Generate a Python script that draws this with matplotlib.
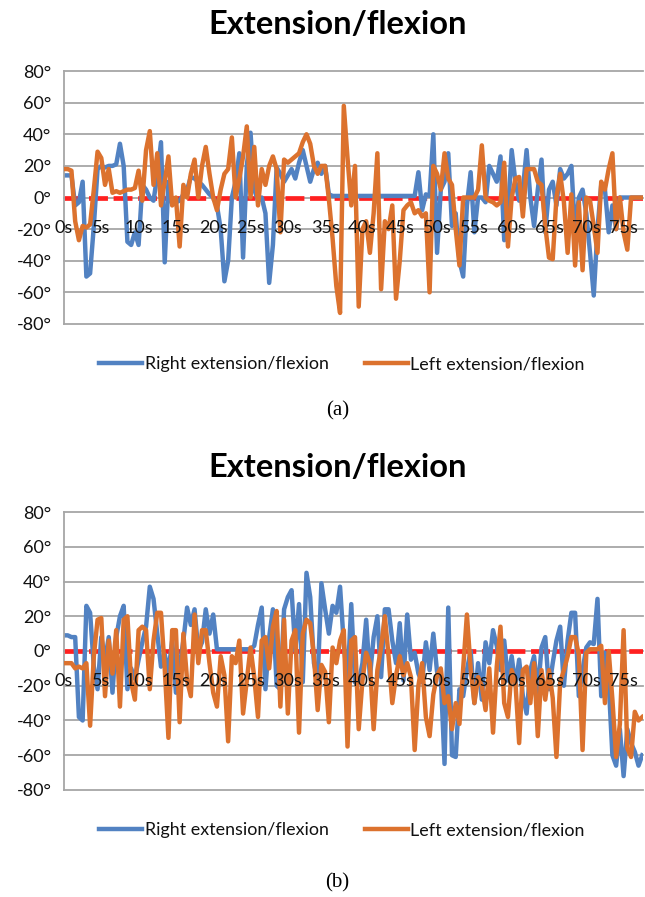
import numpy as np
import matplotlib
matplotlib.use('Agg')
import matplotlib.pyplot as plt

plt.rcParams['font.family'] = ['Lato', 'DejaVu Sans']

# samples every 0.5 s
step = 0.5

right_a = [14, 14, 14, -5, -3, 10, -50, -48, -18, 18,
           20, 19, 20, 20, 21, 34, 20, -28, -30, -22,
           -30, 8, 5, 0, -2, 14, 35, -41, 10, -4,
           -3, -2, 2, 5, 13, 12, 10, 8, 5, 2,
           0, -5, -20, -53, -40, 0, 10, 28, -38, 20,
           41, 5, -2, 0, -10, -54, -30, 19, 15, 10,
           14, 18, 12, 22, 30, 20, 10, 18, 22, 15,
           20, 2, 1, 1, 1, 1, 1, 1, 1, 1,
           1, 1, 1, 1, 1, 1, 1, 1, 1, 1,
           1, 1, 1, 1, 1, 16, -8, 2, 1, 40,
           -35, 5, 10, 28, -18, -10, -40, -50, -5, 16,
           -22, 0, 0, -3, 20, 15, 10, 26, -27, -10,
           30, 10, -2, 5, 30, 0, -18, 5, 24, -22,
           5, 10, -5, 18, 12, 15, 20, -22, 0, 5,
           -10, -35, -62, -20, 8, 5, -22, -5, -20, 0,
           0, 0, 0, 0, 0, 0]

left_a = [18, 18, 17, -15, -27, -18, -19, -17, 5, 29,
          25, 8, 18, 3, 4, 3, 4, 5, 5, 6,
          17, -2, 30, 42, 8, 28, -5, 10, 26, -5,
          0, -31, 8, 0, 15, 24, 0, 20, 32, 15,
          0, -8, 5, 15, 18, 38, 0, 12, 26, 45,
          0, 32, -5, 18, 8, 20, 26, 18, -22, 24,
          22, 24, 26, 28, 35, 40, 34, 20, 15, 20,
          20, -1, -26, -56, -73, 58, 25, -5, 20, -69,
          -20, -15, -35, -10, 28, -58, -15, -20, -5, -64,
          -40, -8, -5, -3, -10, -8, -12, -10, -60, 20,
          15, 5, 28, 12, 8, -20, -43, 0, 0, 0,
          0, 5, 33, 0, -2, -3, -5, -3, 22, -31,
          0, 12, 13, -12, 18, 18, 18, 10, 8, -18,
          -38, -39, 0, 15, -3, -35, 2, -43, -3, -46,
          0, -2, -18, -35, 10, 5, 18, 28, -20, 0,
          -22, -33, 0, 0, 0, 0]

right_b = [9, 9, 8, 8, -38, -40, 26, 22, -9, -22,
           8, -5, 8, -24, 8, 20, 26, -22, -10, -16,
           -5, 5, 14, 37, 30, 10, -9, -2, -12, 6,
           -24, -9, 6, 25, 15, 24, 0, 5, 24, 10,
           21, 1, 1, 1, 1, 1, 1, 1, 1, 1,
           1, 3, 15, 25, -22, 8, 24, -20, -22, 24,
           31, 35, 0, 27, -18, 45, 31, -7, -17, 39,
           24, 10, 26, 22, 37, 4, -18, 27, -18, -18,
           -7, 18, -15, 8, 20, -15, 24, 24, 6, -7,
           16, -17, 21, -5, -1, -13, -18, 5, -11, 10,
           -12, -15, -65, 25, -60, -61, -22, -26, -11, 0,
           -30, -7, -28, 5, -7, 12, 3, -11, 6, -17,
           -3, -20, -5, -26, -36, -11, -3, -24, 2, 8,
           -22, -7, 6, 14, -20, 6, 22, 22, -26, -11,
           2, 5, 4, 30, -26, -1, -18, -60, -66, -45,
           -72, -45, -53, -58, -66, -60]

left_b = [-7, -7, -7, -10, -9, -10, -7, -43, -3, 18,
          19, -26, 6, -13, 12, -32, 18, 20, -18, -28,
          12, 14, 12, -22, 6, 22, 22, -10, -50, 12,
          12, -41, 10, -17, -26, 21, -7, 12, 12, -7,
          -24, -32, -3, -14, -52, -3, -7, 6, -36, -17,
          2, -15, -38, 6, 8, -10, 14, 23, -32, 18,
          -36, 6, 12, -47, 10, 18, 16, -3, -34, -8,
          -12, -41, 2, -7, 6, 12, -55, 6, 8, -45,
          -17, -1, -7, -45, -11, 2, 20, -3, -30, -14,
          -3, -14, -7, -15, -57, -20, -7, -38, -49, -25,
          -14, -10, -30, -26, -45, -30, -42, -10, 21, -10,
          -30, -15, -20, -34, -10, -47, -9, 14, -30, -38,
          -11, -18, -53, -11, -9, -30, -7, -49, -11, -28,
          -11, -27, -61, -18, -11, -3, 8, 8, -2, -57,
          -1, 1, 1, 1, 3, -30, 0, -28, -61, -42,
          12, -56, -61, -35, -40, -38]

yticks = [-80, -60, -40, -20, 0, 20, 40, 60, 80]
ytick_labels = ['-80°', '-60°', '-40°', '-20°', '0°', '20°', '40°', '60°', '80°']
xticks = [0, 5, 10, 15, 20, 25, 30, 35, 40, 45, 50, 55, 60, 65, 70, 75]
xtick_labels = ['0s', '5s', '10s', '15s', '20s', '25s', '30s', '35s', '40s',
                '45s', '50s', '55s', '60s', '65s', '70s', '75s']
series_names = ['Right extension/flexion', 'Left extension/flexion']
title = 'Extension/flexion'

blue = '#5282c2'
orange = '#dc722e'
grid_col = '#a6a6a6'


def draw(ax, right, left):
    for v in yticks:
        ax.axhline(v, color=grid_col, lw=1.3, zorder=0.5, clip_on=False)
    ax.axhline(0, color='#ff2020', lw=3.4, dashes=(4, 1.2), zorder=1)
    h1, = ax.plot(np.arange(len(right)) * step, right, color=blue, lw=3.2,
                  solid_joinstyle='round', zorder=2, label=series_names[0])
    h2, = ax.plot(np.arange(len(left)) * step, left, color=orange, lw=3.2,
                  solid_joinstyle='round', zorder=3, label=series_names[1])
    ax.set_xlim(0, 77.6)
    ax.set_ylim(-80, 80)
    ax.set_yticks(yticks, ytick_labels)
    ax.set_xticks(xticks, xtick_labels)
    ax.spines['bottom'].set_position(('data', 0))
    ax.spines['bottom'].set_visible(False)
    ax.spines['top'].set_visible(False)
    ax.spines['right'].set_visible(False)
    ax.spines['left'].set_color(grid_col)
    ax.spines['left'].set_linewidth(1.3)
    ax.tick_params(axis='x', length=0, pad=16, labelsize=13, labelcolor='#111111')
    ax.tick_params(axis='y', length=0, pad=9, labelsize=13, labelcolor='#111111')
    ax.xaxis.set_zorder(5)
    return h1, h2


fig = plt.figure(figsize=(6.45, 8.97), dpi=100)

ax_a = fig.add_axes([0.0992, 0.6388, 0.8977, 0.2820])
ha = draw(ax_a, right_a, left_a)
ax_b = fig.add_axes([0.0992, 0.1193, 0.8977, 0.3099])
hb = draw(ax_b, right_b, left_b)

fig.text(0.523, 1 - 25 / 897, title, ha='center', va='center',
         fontsize=23.5, fontweight='bold')
fig.text(0.523, 1 - 467 / 897, title, ha='center', va='center',
         fontsize=23.5, fontweight='bold')

for handles, ypix in [(ha, 364), (hb, 830)]:
    fig.legend(handles, series_names, loc='center',
               bbox_to_anchor=(0.53, 1 - ypix / 897), ncol=2, frameon=False,
               fontsize=12.9, handlelength=2.4, handletextpad=0.15,
               columnspacing=2.0, labelcolor='#111111')

fig.text(0.523, 1 - 411 / 897, '(a)', ha='center', va='center',
         fontsize=15, family='Liberation Serif')
fig.text(0.523, 1 - 883 / 897, '(b)', ha='center', va='center',
         fontsize=15, family='Liberation Serif')

fig.savefig('out.png', dpi=100)
